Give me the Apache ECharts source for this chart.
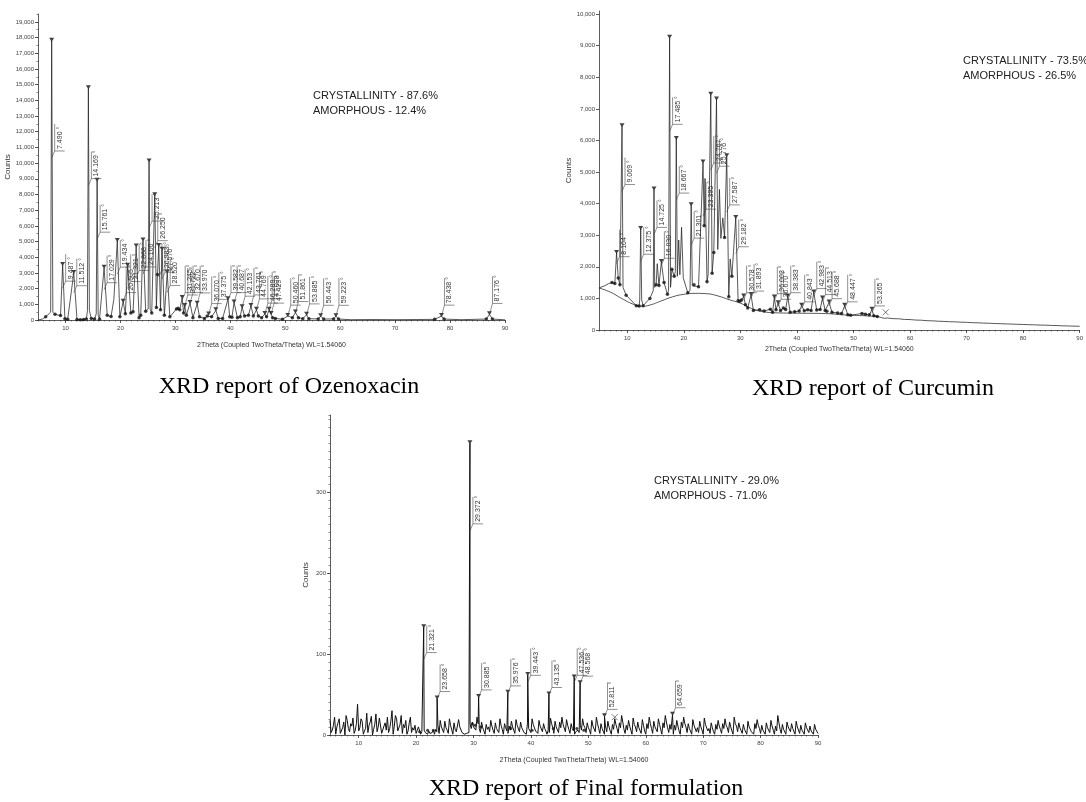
<!DOCTYPE html>
<html>
<head>
<meta charset="utf-8">
<title>XRD reports</title>
<script src="https://cdn.jsdelivr.net/npm/echarts@6.0.0/dist/echarts.min.js"></script>
<style>
  html, body { margin: 0; padding: 0; background: #fff; }
  #chart { width: 1086px; height: 802px; }
</style>
</head>
<body>
<div id="chart"></div>
<script>
// values: [2theta (deg), counts]
const xTicks = [10, 20, 30, 40, 50, 60, 70, 80, 90];

// --- Ozenoxacin ---
const ozPeaks = [
  [7.490, 17800], [9.487, 3500], [11.512, 3000], [14.169, 14770], [15.761, 8880],
  [17.029, 3330], [19.434, 5040], [20.505, 1170], [21.321, 3460], [22.868, 4680],
  [24.106, 5060], [25.213, 10100], [26.250, 7950], [26.983, 4720], [27.576, 4480],
  [28.520, 3030], [31.245, 1400], [31.722, 900], [32.670, 1080], [33.970, 1030],
  [36.070, 350], [37.375, 620], [39.582, 1330], [40.687, 1120], [42.153, 820],
  [43.761, 900], [44.769, 650], [46.289, 380], [47.078, 660], [47.429, 380],
  [50.460, 250], [51.861, 480], [53.885, 330], [56.443, 240], [59.223, 240],
  [78.438, 250], [87.176, 360]
];
const ozDots = [
  [6.4, 200], [8.1, 360], [9.1, 280], [9.9, 80], [10.4, 40], [12.1, 30], [12.7, 20],
  [13.3, 30], [13.8, 60], [14.7, 100], [15.3, 60], [16.2, 50], [17.6, 300], [18.3, 220],
  [19.9, 200], [20.9, 400], [21.9, 450], [22.3, 520], [23.4, 150], [23.7, 300],
  [24.6, 550], [25.7, 450], [26.55, 800], [26.75, 2900], [27.3, 650], [28.0, 300],
  [29.0, 200], [30.2, 700], [30.5, 750], [30.8, 650], [31.5, 450], [32.0, 300],
  [33.2, 150], [34.4, 200], [35.3, 100], [35.8, 250], [36.6, 200], [37.8, 100],
  [38.6, 100], [39.9, 200], [40.3, 180], [41.3, 150], [41.8, 200], [42.6, 250],
  [43.3, 300], [44.2, 250], [45.1, 250], [45.7, 150], [46.6, 200], [47.7, 150],
  [48.2, 100], [49.5, 50], [51.3, 150], [52.4, 150], [53.2, 80], [54.3, 80],
  [56.0, 70], [57.0, 60], [58.8, 70], [59.7, 60], [77.2, 40], [78.9, 60],
  [86.6, 60], [87.7, 60]
];
const ozFoot = [
  [5.0, 0], [5.8, 60], [7.3, 500], [7.7, 500], [14.0, 600], [14.35, 600],
  [15.6, 400], [15.95, 300], [18.8, 1300], [25.05, 700], [25.4, 700],
  [62, 20], [66, 30], [70, 20], [74, 30], [82, 20], [90, 10]
];

// --- Curcumin ---
const curPeaks = [
  [8.104, 2440], [9.069, 6450], [12.375, 3200], [14.725, 4450], [16.030, 2150],
  [17.485, 9250], [18.667, 6050], [21.301, 3950], [23.395, 5300], [24.767, 7450],
  [25.776, 7300], [27.587, 5500], [29.182, 3550], [30.578, 1060], [31.893, 1110],
  [36.003, 1030], [36.670, 850], [38.383, 1060], [40.843, 770], [42.983, 1190],
  [44.513, 1000], [45.688, 870], [48.447, 770], [53.265, 640]
];
const curDots = [
  [7.3, 1500], [7.8, 1470], [8.4, 1650], [8.7, 1430], [9.8, 1100], [11.6, 770],
  [12.1, 760], [12.8, 770], [14.0, 1000], [15.1, 1430], [15.6, 1410], [16.5, 1500],
  [17.1, 1130], [17.9, 1920], [18.3, 1700], [20.7, 1180], [21.8, 1430], [22.6, 1370],
  [23.6, 3300], [24.1, 1530], [25.0, 1800], [25.3, 2450], [27.2, 2930], [27.95, 1050],
  [28.5, 1700], [29.6, 930], [29.9, 910], [30.2, 950], [30.9, 800], [31.3, 700],
  [32.3, 620], [33.4, 640], [34.2, 600], [35.3, 660], [35.7, 560], [36.3, 640],
  [37.1, 620], [37.6, 700], [38.0, 650], [38.8, 560], [39.6, 580], [40.4, 600],
  [41.3, 610], [41.9, 640], [42.5, 620], [43.5, 630], [44.1, 650], [45.0, 620],
  [45.3, 590], [46.2, 560], [47.2, 540], [47.9, 520], [49.0, 480], [49.5, 470],
  [51.5, 520], [52.1, 500], [52.8, 480], [53.6, 450], [54.2, 430]
];
const curFoot = [
  [5.0, 1330], [6.0, 1400], [6.7, 1470], [9.25, 1350], [12.2, 950], [12.55, 950],
  [14.6, 1250], [14.85, 1350], [15.3, 2100], [17.3, 1250], [17.65, 1350], [18.5, 1850],
  [18.85, 1700], [19.1, 2850], [19.3, 1750], [19.6, 3250], [19.9, 1650], [21.1, 1250],
  [21.5, 1400], [22.9, 1350], [23.75, 4800], [24.3, 1750], [26.0, 2550], [26.3, 4450],
  [26.55, 2900], [26.9, 3550], [28.2, 2250]
];
const curTail = [
  [55.0, 390], [55.5, 370], [56, 380], [57, 360], [58, 355], [59, 335], [60, 330],
  [61, 315], [62, 310], [63, 295], [64, 290], [65, 278], [66, 272], [67, 262],
  [68, 258], [69, 248], [70, 242], [71, 232], [72, 228], [73, 218], [74, 214],
  [75, 205], [76, 200], [77, 192], [78, 188], [79, 180], [80, 176], [81, 168],
  [82, 164], [83, 156], [84, 152], [85, 145], [86, 140], [87, 132], [88, 128],
  [89, 122], [90, 118]
];
const curHump = [
  [5, 1330], [7, 1200], [9, 1000], [11, 820], [12.5, 750], [14, 790], [16, 920],
  [18, 1050], [20, 1130], [22, 1160], [24, 1150], [26, 1080], [28, 960], [30, 850],
  [32, 680], [34, 580], [37, 540], [41, 530], [45, 520], [49, 470], [52, 450], [54.5, 420]
];
const curEnd = [[55.7, 560]];

// --- Final formulation ---
const finPeaks = [
  [21.321, 133], [23.658, 45], [29.372, 360], [30.885, 47], [35.976, 52],
  [39.443, 74], [43.135, 50], [47.536, 71], [48.568, 64], [52.811, 23], [64.659, 25]
];
// background counts, two interleaved runs every 0.4 deg (from 5.0 and from 5.2)
const finNoiseStep = 0.4;
const finNoiseA = [
  18, 6, 22, 10, 20, 4, 16, 24, 8, 14,
  21, 6, 38, 9, 17, 5, 27, 12, 23, 7,
  26, 10, 19, 4, 15, 22, 8, 30, 11, 20,
  6, 24, 13, 18, 5, 22, 9, 12, 3, 8,
  4, 6, 5, 5, 4, 6, 7, 12, 18, 9,
  17, 6, 20, 11, 15, 4, 19, 8, 5, 3,
  4, 14, 16, 12, 22, 8, 16, 5, 13, 10,
  18, 6, 15, 9, 20, 7, 14, 5, 11, 17,
  6, 19, 10, 16, 8, 4, 15, 9, 20, 12,
  7, 18, 10, 14, 5, 6, 21, 9, 17, 8,
  16, 22, 11, 19, 7, 14, 5, 4, 6, 12,
  20, 9, 15, 6, 18, 11, 22, 8, 14, 6,
  10, 17, 5, 13, 20, 8, 15, 24, 7, 12,
  18, 6, 21, 10, 16, 9, 19, 5, 14, 22,
  8, 17, 11, 20, 7, 15, 24, 9, 13, 6,
  12, 18, 5, 16, 22, 10, 14, 6, 19, 11,
  9, 17, 6, 21, 12, 8, 15, 4, 13, 18,
  7, 14, 20, 9, 16, 5, 22, 11, 15, 8,
  13, 6, 17, 10, 4, 14, 19, 8, 12, 5,
  15, 9, 18, 6, 11, 24, 7, 13, 5, 16,
  10, 14, 6, 17, 8, 12, 4, 15, 9, 11, 5, 13, 7
];
const finNoiseB = [
  3, 12, 1, 15, 2, 9, 0, 18, 4, 11,
  2, 14, 5, 20, 1, 8, 3, 16, 0, 13,
  4, 21, 2, 11, 6, 3, 17, 1, 24, 5,
  13, 2, 9, 1, 15, 3, 6, 2, 10, 1,
  2, 3, 1, 2, 3, 1, 4, 2, 10, 3,
  9, 2, 12, 1, 7, 2, 10, 3, 1, 2,
  3, 8, 10, 6, 14, 3, 9, 1, 7, 4,
  11, 2, 8, 3, 12, 1, 9, 2, 6, 10,
  2, 12, 4, 9, 3, 1, 8, 3, 13, 5,
  2, 11, 4, 8, 1, 3, 14, 2, 10, 3,
  9, 13, 4, 12, 2, 8, 1, 2, 3, 6,
  12, 3, 9, 1, 11, 4, 14, 2, 8, 1,
  4, 10, 1, 7, 13, 2, 9, 16, 2, 6,
  11, 1, 13, 4, 9, 2, 12, 1, 8, 14,
  2, 10, 4, 13, 1, 9, 16, 3, 7, 1,
  6, 11, 1, 9, 14, 3, 8, 1, 12, 4,
  3, 10, 1, 13, 5, 2, 9, 1, 7, 11,
  2, 8, 12, 3, 10, 1, 14, 4, 9, 2,
  7, 1, 10, 4, 1, 8, 12, 2, 6, 1,
  9, 3, 11, 1, 5, 15, 2, 7, 1, 10,
  4, 8, 1, 10, 2, 6, 1, 9, 3, 5, 1, 7, 2
];
const finDots = [
  [20.6, 4], [22.0, 6], [23.0, 6], [29.8, 14], [30.3, 12], [31.3, 10],
  [36.5, 8], [40.2, 6], [43.9, 8], [48.0, 8], [49.2, 6]
];
const finEnd = [[54.6, 22]];

const FONT = '"Liberation Sans", Arial, sans-serif';
const SERIF = '"Liberation Serif", "Times New Roman", serif';
const AXIS = '#333';
const LINE = '#222';
const X_NAME = '2Theta (Coupled TwoTheta/Theta) WL=1.54060';

const merge = (...parts) => parts.flat().slice().sort((a, b) => a[0] - b[0]);

const ozTrace = merge(ozPeaks, ozDots, ozFoot);
const curTrace = merge(curPeaks, curDots, curFoot, curTail);
const finTrace = merge(
  finNoiseA.map((v, i) => [5 + i * finNoiseStep, v]),
  finNoiseB.map((v, i) => [5.2 + i * finNoiseStep, v]),
  finPeaks
);

function mainX(grid, nameGap) {
  return {
    type: 'value', gridIndex: grid, min: 5, max: 90, position: 'bottom',
    name: X_NAME, nameLocation: 'middle', nameGap,
    nameTextStyle: { fontSize: 7, color: '#333', fontFamily: FONT },
    axisLine: { show: true, onZero: false, lineStyle: { color: AXIS, width: 0.8 } },
    axisTick: { show: true, length: 3, customValues: xTicks, lineStyle: { color: AXIS, width: 0.8 } },
    axisLabel: { customValues: xTicks, fontSize: 6, color: '#444', margin: 5, fontFamily: FONT },
    splitLine: { show: false }
  };
}

function minorX(grid) {
  return {
    type: 'value', gridIndex: grid, min: 5, max: 90, interval: 1, position: 'bottom',
    axisLine: { show: false }, axisLabel: { show: false }, splitLine: { show: false },
    axisTick: { show: true, length: 1.5, lineStyle: { color: AXIS, width: 0.6 } }
  };
}

function mainY(grid, max, interval) {
  return {
    type: 'value', gridIndex: grid, min: 0, max, interval, position: 'left',
    name: 'Counts', nameLocation: 'middle', nameGap: 20, nameRotate: 90,
    nameTextStyle: { fontSize: 8, color: '#333', fontFamily: FONT },
    axisLine: { show: true, lineStyle: { color: AXIS, width: 0.8 } },
    axisTick: { show: true, length: 3, lineStyle: { color: AXIS, width: 0.8 } },
    axisLabel: {
      fontSize: 6, color: '#444', margin: 4, fontFamily: FONT, showMaxLabel: false,
      formatter: v => v.toLocaleString('en-US')
    },
    splitLine: { show: false }
  };
}

function minorY(grid, max, interval) {
  return {
    type: 'value', gridIndex: grid, min: 0, max, interval, position: 'left',
    axisLine: { show: false }, axisLabel: { show: false }, splitLine: { show: false },
    axisTick: { show: true, length: 1.5, lineStyle: { color: AXIS, width: 0.6 } }
  };
}

// bracketed, rotated peak position labels
function peakLabels(factor, lift, cap) {
  return (params, api) => {
    const x = api.value(0);
    const p = api.value(1);
    const anchor = Math.max(p * factor, Math.min(p + lift, cap));
    const s = api.coord([x, Math.min(p, anchor)]);
    const a = api.coord([x, anchor]);
    const c = [a[0] + 3, a[1] - 7];
    const text = x.toFixed(3) + ' °';
    const line = { stroke: '#444', lineWidth: 0.6, fill: 'none' };
    return {
      type: 'group',
      children: [
        { type: 'polyline', shape: { points: [s, c, [c[0] + 10, c[1]]] }, style: line },
        { type: 'line', shape: { x1: c[0], y1: c[1], x2: c[0], y2: c[1] - 27 }, style: line },
        {
          type: 'text', x: c[0] + 5, y: c[1] - 2, rotation: Math.PI / 2,
          style: { text, fontSize: 7, fill: '#333', fontFamily: FONT, align: 'left', verticalAlign: 'middle' }
        }
      ]
    };
  };
}

const traceSeries = (data, xi, yi, extra) => Object.assign({
  type: 'line', data, xAxisIndex: xi, yAxisIndex: yi, symbol: 'none',
  lineStyle: { color: LINE, width: 0.75 }, z: 2
}, extra || {});

const dotSeries = (data, xi, yi, size) => ({
  type: 'scatter', data, xAxisIndex: xi, yAxisIndex: yi,
  symbol: 'circle', symbolSize: size, itemStyle: { color: '#111' }, z: 3
});

const markerSeries = (data, xi, yi) => ({
  type: 'scatter', data, xAxisIndex: xi, yAxisIndex: yi,
  symbol: 'path://M0,0L10,0L5,7Z', symbolSize: [5, 4], symbolOffset: [0, -1],
  itemStyle: { color: '#111' }, z: 4
});

const labelSeries = (data, xi, yi, factor, lift, cap) => ({
  type: 'custom', data, xAxisIndex: xi, yAxisIndex: yi, clip: false,
  encode: { x: 0, y: 1 }, renderItem: peakLabels(factor, lift, cap), z: 5
});

const crossSeries = (data, xi, yi) => ({
  type: 'scatter', data, xAxisIndex: xi, yAxisIndex: yi,
  symbol: 'path://M0,0L10,10M10,0L0,10', symbolSize: 6,
  itemStyle: { color: 'none', borderColor: '#333', borderWidth: 0.8 }, z: 4
});

const textStyle = (text, size, family, extra) => Object.assign({
  text, fontSize: size, fontFamily: family, fill: '#222'
}, extra || {});

const chart = echarts.init(document.getElementById('chart'));

chart.setOption({
  animation: false,
  backgroundColor: '#fff',
  grid: [
    { left: 38, top: 14, width: 467, height: 306 },
    { left: 599, top: 11, width: 481, height: 319 },
    { left: 330, top: 415, width: 488, height: 320 }
  ],
  xAxis: [mainX(0, 22), minorX(0), mainX(1, 16), minorX(1), mainX(2, 22), minorX(2)],
  yAxis: [
    mainY(0, 19500, 1000), minorY(0, 19500, 500),
    mainY(1, 10100, 1000),
    mainY(2, 395, 100), minorY(2, 395, 10)
  ],
  series: [
    traceSeries(ozTrace, 0, 0),
    dotSeries(ozDots, 0, 0, 3.5),
    markerSeries(ozPeaks, 0, 0),
    labelSeries(ozPeaks, 0, 0, 0.58, 250, 1300),

    traceSeries(curHump, 2, 2, { smooth: true }),
    traceSeries(curTrace, 2, 2),
    dotSeries(curDots, 2, 2, 3.5),
    markerSeries(curPeaks, 2, 2),
    labelSeries(curPeaks, 2, 2, 0.68, -100, 2100),
    crossSeries(curEnd, 2, 2),

    traceSeries(finTrace, 4, 3, { lineStyle: { color: '#111', width: 1 } }),
    dotSeries(finDots, 4, 3, 3),
    markerSeries(finPeaks, 4, 3),
    labelSeries(finPeaks, 4, 3, 0.7, 0, 65),
    crossSeries(finEnd, 4, 3)
  ],
  graphic: [
    { type: 'text', left: 313, top: 88, style: textStyle('CRYSTALLINITY - 87.6%\nAMORPHOUS - 12.4%', 11, FONT, { lineHeight: 15 }) },
    { type: 'text', left: 963, top: 53, style: textStyle('CRYSTALLINITY - 73.5%\nAMORPHOUS - 26.5%', 11, FONT, { lineHeight: 15 }) },
    { type: 'text', left: 654, top: 473, style: textStyle('CRYSTALLINITY - 29.0%\nAMORPHOUS - 71.0%', 11, FONT, { lineHeight: 15 }) },
    { type: 'text', x: 289, y: 387, style: textStyle('XRD report of Ozenoxacin', 24, SERIF, { fill: '#000', align: 'center', verticalAlign: 'middle' }) },
    { type: 'text', x: 873, y: 389, style: textStyle('XRD report of Curcumin', 24, SERIF, { fill: '#000', align: 'center', verticalAlign: 'middle' }) },
    { type: 'text', x: 586, y: 789, style: textStyle('XRD report of Final formulation', 24, SERIF, { fill: '#000', align: 'center', verticalAlign: 'middle' }) }
  ]
});
</script>
</body>
</html>
